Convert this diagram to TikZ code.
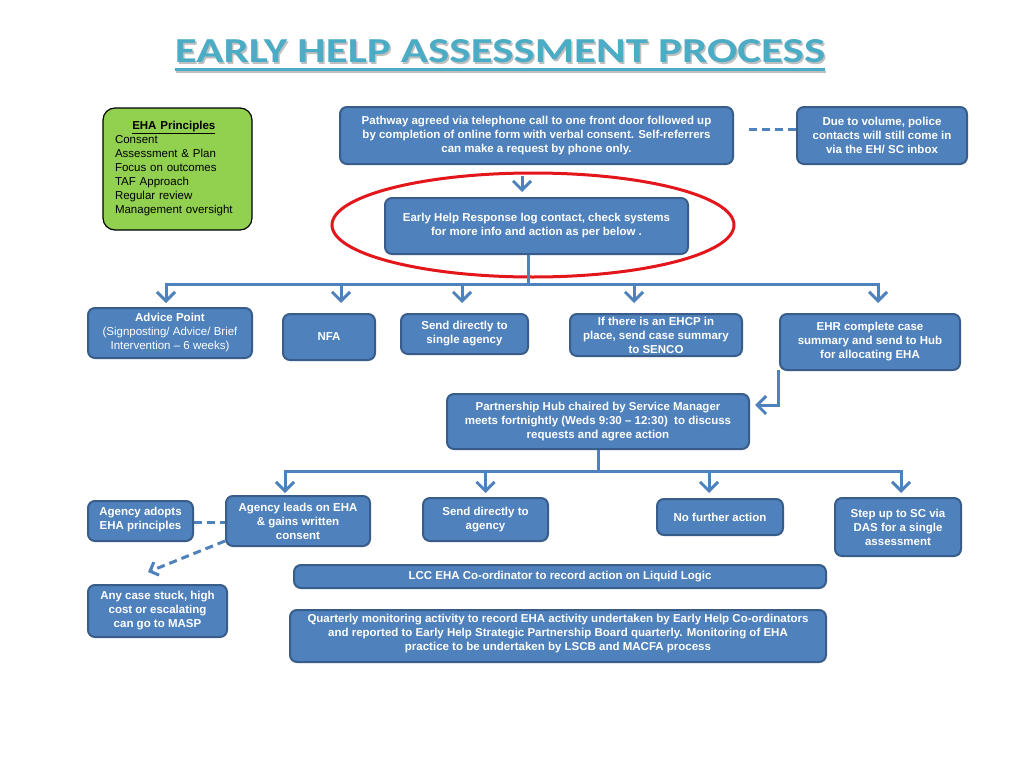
\documentclass[tikz,border=0pt]{standalone}
\usepackage{graphicx}
\usepackage{fontspec}
\setmainfont{Liberation Sans}
\newfontfamily\titlefont{Carlito}
\usepackage{xcolor}
\usepackage{tikz}
\usetikzlibrary{arrows.meta}
\usetikzlibrary{calc}
\definecolor{boxblue}{HTML}{4F81BD}
\definecolor{boxedge}{HTML}{385D8A}
\definecolor{titleteal}{HTML}{4BACC6}
\definecolor{princgreen}{HTML}{92D050}
\definecolor{ringred}{HTML}{E3161B}
\tikzstyle{block} = [draw=boxedge, line width=2pt, fill=boxblue, rounded corners=7pt, text=white, font=\bfseries\fontsize{11.5}{14}\selectfont, align=center, inner sep=0pt]
\tikzstyle{arrow} = [draw=boxblue, line width=3pt, -{Straight Barb[length=9pt,width=18pt]}]
\tikzstyle{line} = [draw=boxblue, line width=3pt]
\tikzstyle{dashline} = [draw=boxblue, line width=3pt, dash pattern=on 8pt off 5pt]

\begin{document}
\begin{tikzpicture}[x=1pt, y=-1pt]
			\fill[white] (0,0) rectangle (1024,768);
			\useasboundingbox (0,0) rectangle (1024,768);
			
			% Title
			\node (titleshadow) [inner sep=0pt, text=black!25] at (501.5,53.5) {\resizebox{650pt}{23pt}{\titlefont\bfseries EARLY HELP ASSESSMENT PROCESS}};
			\node (title) [inner sep=0pt, text=titleteal] at (500,51.5) {\resizebox{650pt}{23pt}{\titlefont\bfseries EARLY HELP ASSESSMENT PROCESS}};
			\draw[black!25, line width=2pt] ($(title.south west)+(1,8.5)$) -- ($(title.south east)+(1,8.5)$);
			\draw[titleteal, line width=2.5pt] ($(title.south west)+(0,6)$) -- ($(title.south east)+(0,6)$);
			
			% Principles
			\node (princ) [draw=black, line width=1.2pt, fill=princgreen, rounded corners=12pt,
			minimum width=149, minimum height=122,
			text width=125, align=left, inner sep=0pt,
			font=\fontsize{11.5}{14}\selectfont] at (177.5,169) {%
				\begin{tabular}{@{}l@{}}
					\multicolumn{1}{@{}c@{}}{\underline{\textbf{EHA Principles}}}\\
					Consent\\
					Assessment \& Plan\\
					Focus on outcomes\\
					TAF Approach\\
					Regular review\\
					Management oversight
			\end{tabular}};
			
			% Top row
			\node (path) [block, minimum width=393, minimum height=57] at (536.5,135.5)
			{Pathway agreed via telephone call to one front door followed up\\
				by completion of online form with verbal consent. Self-referrers\\
				can make a request by phone only.};
			\node (police) [block, minimum width=170, minimum height=57] at (882,135.5)
			{Due to volume, police\\ contacts will still come in\\ via the EH/ SC inbox};
			\draw[dashline] ($(path.east)+(15,-6.5)$) -- ($(police.west)+(0,-6.5)$);
			
			\node (ehr) [block, minimum width=303, minimum height=56] at (536.5,226)
			{Early Help Response log contact, check systems\\ for more info and action as per below .};
			\draw[arrow] ($(path.south)+(-14.5,11)$) -- ($(ehr.north)+(-14.5,-5)$);
			\draw[ringred, line width=3pt] (533,225) ellipse [x radius=201pt, y radius=52pt];
			
			% First split
			\coordinate (split) at (528,284);
			\draw[line] ($(ehr.south)+(-8.5,0)$) -- (split);
			\draw[line] (166,284) -- (878,284);
			
			\node (advice) [block, minimum width=164, minimum height=50] at (170,333)
			{Advice Point\\ \mdseries (Signposting/ Advice/ Brief\\ \mdseries Intervention -- 6 weeks)};
			\node (nfa) [block, minimum width=92, minimum height=46] at (329,337) {NFA};
			\node (single) [block, minimum width=127, minimum height=40] at (464.5,334)
			{Send directly to\\ single agency};
			\node (ehcp) [block, minimum width=172, minimum height=42] at (656,335)
			{If there is an EHCP in\\ place, send case summary\\ to SENCO};
			\node (summary) [block, minimum width=180, minimum height=56] at (870,342)
			{EHR complete case\\ summary and send to Hub\\ for allocating EHA};
			
			\foreach \n/\dx in {advice/-4, nfa/12, single/-2.5, ehcp/-22, summary/8}
			\draw[arrow] ($(\n.north |- split)+(\dx,-1.5)$) -- ($(\n.north |- split)+(\dx,19)$);
			
			% Hub
			\node (hub) [block, minimum width=302, minimum height=55] at (598,421.5)
			{Partnership Hub chaired by Service Manager\\ meets fortnightly (Weds 9:30 -- 12:30)\ \ to discuss\\ requests and agree action};
			\draw[arrow] ($(summary.south west)+(-1,-1)$) |- ($(hub.east)+(5,-16.5)$);
			
			% Second split
			\coordinate (split2) at (598,471);
			\draw[line] (hub.south) -- (split2);
			\draw[line] (284,471) -- (901,471);
			
			\node (adopts) [block, minimum width=105, minimum height=40] at (140.5,521)
			{Agency adopts\\ EHA principles\rule[-6pt]{0pt}{0pt}};
			\node (leads) [block, minimum width=144, minimum height=50] at (298,521)
			{Agency leads on EHA\\ \& gains written\\ consent};
			\node (agency) [block, minimum width=125, minimum height=43] at (485.5,519.5)
			{Send directly to\\ agency};
			\node (nfurther) [block, minimum width=126, minimum height=36] at (720,517)
			{No further action};
			\node (stepup) [block, minimum width=126, minimum height=58] at (898,527)
			{Step up to SC via\\ DAS for a single\\ assessment};
			
			\foreach \n/\dx in {leads/-13, agency/0, nfurther/-11, stepup/3}
			\draw[arrow] ($(\n.north |- split2)+(\dx,-1.5)$) -- ($(\n.north |- split2)+(\dx,22)$);
			
			\draw[dashline] ($(adopts.east)+(0,1)$) -- ($(leads.west)+(0,1)$);
			
			\node (masp) [block, minimum width=139, minimum height=52] at (157.5,611)
			{Any case stuck, high\\ cost or escalating\\ can go to MASP};
			\draw[dashline, -{Straight Barb[length=7pt,width=14pt]}] ($(leads.south west)+(0,-6)$) -- ($(masp.north)+(-9.5,-12)$);
			
			% Bottom
			\node (lcc) [block, minimum width=532, minimum height=23] at (560,576.5)
			{LCC EHA Co-ordinator to record action on Liquid Logic};
			\node (quarterly) [block, minimum width=536, minimum height=52] at (558,636)
			{Quarterly monitoring activity to record EHA activity undertaken by Early Help Co-ordinators\\
				and reported to Early Help Strategic Partnership Board quarterly. Monitoring of EHA\\
				practice to be undertaken by LSCB and MACFA process\rule[-8pt]{0pt}{0pt}};
		\end{tikzpicture}
\end{document}
